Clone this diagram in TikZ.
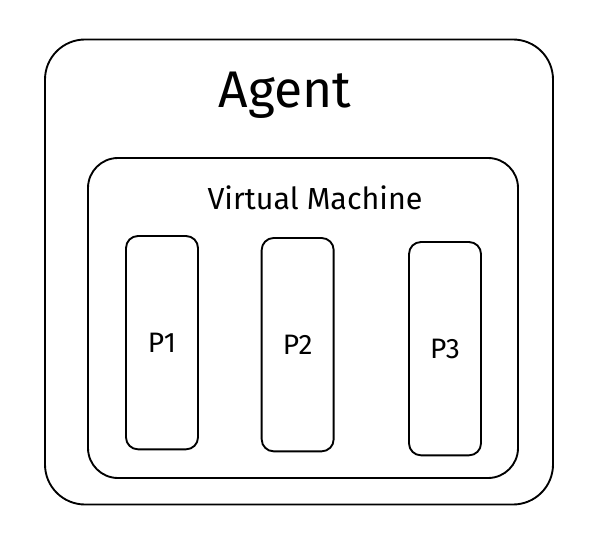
\documentclass[tikz,border=0pt]{standalone}
\usepackage{fontspec}
\setmainfont{Fira Sans}
\tikzset{
  sketchbox/.style={draw, line width=1.6pt, line join=round},
  procbox/.style={sketchbox, rounded corners=0.36cm, minimum width=2.16cm, minimum height=6.4cm, font=\fontsize{24}{28}\selectfont}
}
\begin{document}
\begin{tikzpicture}
\useasboundingbox (0,0) rectangle (17.82,-16.26);
\node[sketchbox, rounded corners=1.2cm, minimum width=15.24cm, minimum height=13.95cm] (agent) at (8.97,-8.16) {};
\node[font=\fontsize{44}{50}\selectfont] (agentlabel) at (8.55,-2.85) {Agent};
\node[sketchbox, rounded corners=0.9cm, minimum width=12.9cm, minimum height=9.6cm] (vm) at (9.09,-9.54) {};
\node[font=\fontsize{26}{30}\selectfont] (vmlabel) at (9.45,-5.94) {Virtual Machine};
\node[procbox] (p1) at (4.86,-10.28) {P1};
\node[procbox] (p2) at (8.93,-10.34) {P2};
\node[procbox] (p3) at (13.35,-10.46) {P3};
\end{tikzpicture}
\end{document}
